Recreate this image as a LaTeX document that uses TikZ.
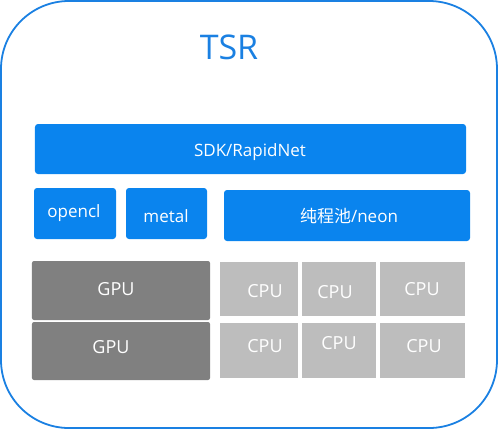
\documentclass[tikz,border=0pt]{standalone}
\usepackage{fontspec}
\setmainfont{Open Sans}
\newfontfamily\cjk{Noto Sans CJK SC}
\usepackage{tikz}
\usetikzlibrary{positioning}
\definecolor{tsrblue}{HTML}{1A80E2}
\definecolor{boxblue}{HTML}{0A84EE}
\definecolor{gpugray}{HTML}{808080}
\definecolor{cpugray}{HTML}{BDBDBD}
\tikzset{
  api/.style  = {rectangle, rounded corners=3bp, fill=boxblue, text=white,
                 inner sep=0pt, font=\fontsize{17bp}{20bp}\selectfont},
  apitxt/.style = {text=white, font=\fontsize{17bp}{20bp}\selectfont},
  gpu/.style  = {rectangle, rounded corners=2bp, fill=gpugray, inner sep=0pt},
  cpu/.style  = {rectangle, fill=cpugray, inner sep=0pt},
  hwtxt/.style = {text=white, font=\fontsize{18bp}{21bp}\selectfont},
}
\begin{document}
\begin{tikzpicture}[x=1bp, y=-1bp]
  \useasboundingbox (0,0) rectangle (499,430);
  % frame and title
  \draw[tsrblue, line width=1.8bp, rounded corners=68bp] (1,1) rectangle (497,428);
  \node[text=tsrblue, font=\fontsize{34bp}{40bp}\selectfont] (title) at (229,47) {TSR};

  % ---- software layer -----------------------------------------------------
  \node[api, minimum width=431bp, minimum height=50bp] (sdk) at (250.5,149) {};
  \node[apitxt] at (250,152) {SDK/RapidNet};
  \node[api, minimum width=82bp, minimum height=51bp] (opencl) at (75,213.5) {};
  \node[apitxt] at (74,213) {opencl};
  \node[api, minimum width=81bp, minimum height=51bp] (metal) at (166.5,213.5) {};
  \node[apitxt] at (166,216) {metal};
  \node[api, minimum width=246bp, minimum height=51bp] (neon) at (347,215.5) {};
  \node[apitxt] at (349,216) {{\cjk 纯程池}/neon};

  % ---- hardware layer -----------------------------------------------------
  \node[gpu, minimum width=178bp, minimum height=59bp] (gpuA) at (121,290.5) {};
  \node[gpu, minimum width=178bp, minimum height=58bp] (gpuB) at (121,351) {};
  \node[hwtxt] at (116,289) {GPU};
  \node[hwtxt] at (111,347) {GPU};
  \foreach \n/\a/\b/\y/\tx/\ty in {%
      cpuA/220/298/289/265/291, cpuB/302/376/289/335/292, cpuC/380/465/289/422/289,
      cpuD/220/298/350.5/265/346, cpuE/302/376/350.5/339/343, cpuF/380/465/350.5/424/346} {
     \node[cpu, minimum width={(\b-\a)*1bp}, minimum height=54.5bp] (\n) at ({(\a+\b)/2},\y) {};
     \node[hwtxt] at (\tx,\ty) {CPU};
  }
\end{tikzpicture}
\end{document}
